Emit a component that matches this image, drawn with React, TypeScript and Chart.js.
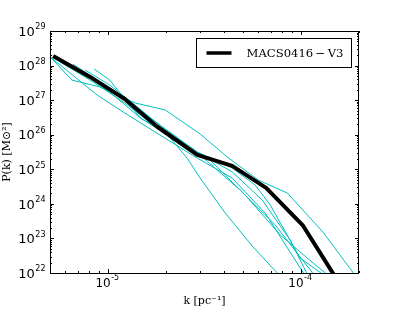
import React, { useEffect, useRef } from 'react';
import { Chart, registerables } from 'chart.js';

Chart.register(...registerables);

// ---- data ----
const mainLabel = 'MACS0416\u2009\u2212\u2009V3';
const mainK = [5.19e-6, 8.07e-6, 1.22e-5, 1.8e-5, 2.9e-5, 4.4e-5, 6.6e-5, 1.02e-4, 1.5e-4];
const mainP = [1.9e28, 4.7e27, 1.08e27, 1.7e26, 2.6e25, 1.25e25, 2.9e24, 2.44e23, 8e21];

const fieldK1 = [5.0e-6, 6.5e-6, 9.09e-6, 1.38e-5, 1.98e-5, 3.0e-5, 4.15e-5, 6.0e-5, 8.5e-5, 1.3e-4, 1.87e-4];
const fieldP1 = [1.8e28, 3.8e27, 2.4e27, 8.3e26, 5.2e26, 1.05e26, 2.26e25, 4.9e24, 2.06e24, 1.53e23, 1e22];

const fieldK2 = [8.46e-6, 1.02e-5, 1.2e-5, 1.47e-5, 1.98e-5, 2.57e-5, 3.0e-5, 4.05e-5, 5.65e-5, 7.54e-5];
const fieldP2 = [7.96e27, 3.8e27, 1.23e27, 3.05e26, 1.2e26, 2.1e25, 5.6e24, 5.4e23, 5.65e22, 1e22];

const fieldK3 = [6.58e-6, 9.09e-6, 1.22e-5, 1.86e-5, 2.9e-5, 4.4e-5, 6.29e-5, 8.8e-5, 1.07e-4];
const fieldP3 = [1.1e28, 3.35e27, 1.15e27, 1.9e26, 3.16e25, 8.4e24, 1.3e24, 9.0e22, 1e22];

const fieldK4 = [7.6e-6, 1.02e-5, 1.38e-5, 1.98e-5, 2.9e-5, 4.4e-5, 5.79e-5, 6.93e-5, 9.9e-5, 1.27e-4];
const fieldP4 = [7.4e27, 2.74e27, 7.2e26, 1.37e26, 3.16e25, 1.09e25, 3.5e24, 9.3e23, 2.7e22, 1e22];

const fieldK5 = [5.0e-6, 8.77e-6, 1.2e-5, 1.86e-5, 2.9e-5, 4.4e-5, 6.53e-5, 1.03e-4];
const fieldP5 = [1.8e28, 1.41e27, 4.5e26, 9.8e25, 2.1e25, 5.6e24, 5.4e23, 1e22];

const fieldK6 = [5.64e-6, 8.07e-6, 1.22e-5, 1.86e-5, 3.0e-5, 4.84e-5, 7.36e-5, 1.15e-4];
const fieldP6 = [1.27e28, 3.8e27, 8.3e26, 1.37e26, 2.6e25, 2.5e24, 2.44e23, 1e22];

const fieldK7 = [6.58e-6, 1.02e-5, 1.47e-5, 2.23e-5, 3.38e-5, 5.14e-5, 7.81e-5, 1.19e-4, 1.34e-4];
const fieldP7 = [9.7e27, 1.72e27, 3.05e26, 7.0e25, 1.86e25, 1.8e24, 1.26e23, 1.7e22, 1e22];

const fieldKs = [fieldK1, fieldK2, fieldK3, fieldK4, fieldK5, fieldK6, fieldK7];
const fieldPs = [fieldP1, fieldP2, fieldP3, fieldP4, fieldP5, fieldP6, fieldP7];

const xMin = 5e-6;
const xMax = 2e-4;
const yMin = 1e22;
const yMax = 1e29;
const xMajorExps = [-5, -4];
const yMajorExps = [22, 23, 24, 25, 26, 27, 28, 29];
const xTitle = 'k [pc\u207B\u00B9]';
const yTitle = 'P(k) [M\u2299\u00B2]';

const cyan = '#00BFBF';

function pts(ks: number[], ps: number[]) {
  return ks.map((k, i) => ({ x: k, y: ps[i] }));
}

const framePlugin = {
  id: 'frameTicksLegend',
  afterDraw(chart: any) {
    const ctx = chart.ctx as CanvasRenderingContext2D;
    const { left, right, top, bottom } = chart.chartArea;
    const xs = chart.scales.x;
    const ys = chart.scales.y;
    ctx.save();
    ctx.strokeStyle = '#000';
    ctx.lineWidth = 1;
    // frame
    ctx.strokeRect(Math.round(left) + 0.5, Math.round(top) + 0.5, Math.round(right - left) - 1, Math.round(bottom - top));
    // ticks
    ctx.beginPath();
    for (let e = Math.floor(Math.log10(xMin)); e <= Math.ceil(Math.log10(xMax)); e++) {
      for (let m = 1; m <= 9; m++) {
        const v = m * Math.pow(10, e);
        if (v < xMin * 0.999 || v > xMax * 1.001) continue;
        const px = Math.round(xs.getPixelForValue(v)) + 0.5;
        const len = m === 1 ? 4 : 2;
        ctx.moveTo(px, bottom);
        ctx.lineTo(px, bottom - len);
        ctx.moveTo(px, top);
        ctx.lineTo(px, top + len);
      }
    }
    for (let e = Math.floor(Math.log10(yMin)); e <= Math.ceil(Math.log10(yMax)); e++) {
      for (let m = 1; m <= 9; m++) {
        const v = m * Math.pow(10, e);
        if (v < yMin * 0.999 || v > yMax * 1.001) continue;
        const py = Math.round(ys.getPixelForValue(v)) + 0.5;
        const len = m === 1 ? 4 : 2;
        ctx.moveTo(left, py);
        ctx.lineTo(left + len, py);
        ctx.moveTo(right, py);
        ctx.lineTo(right - len, py);
      }
    }
    ctx.stroke();

    // tick labels
    ctx.fillStyle = '#000';
    ctx.textBaseline = 'alphabetic';
    ctx.textAlign = 'left';
    const baseFontY = '13px "DejaVu Sans"';
    const expFont = '8px "DejaVu Sans"';
    yMajorExps.forEach((e) => {
      const py = ys.getPixelForValue(Math.pow(10, e));
      ctx.font = baseFontY;
      const wb = ctx.measureText('10').width;
      ctx.font = expFont;
      const we = ctx.measureText(String(e)).width;
      const x0 = left - 5 - wb - we;
      ctx.font = baseFontY;
      ctx.fillText('10', x0, py + 4.7);
      ctx.font = expFont;
      ctx.fillText(String(e), x0 + wb + 0.5, py - 1.7);
    });
    const baseFontX = '12px "DejaVu Sans"';
    xMajorExps.forEach((e) => {
      const px = xs.getPixelForValue(Math.pow(10, e));
      const es = '-' + String(Math.abs(e));
      ctx.font = baseFontX;
      const wb = ctx.measureText('10').width;
      ctx.font = expFont;
      const we = ctx.measureText(es).width;
      const x0 = px - (wb + we) / 2 - 1;
      ctx.font = baseFontX;
      ctx.fillText('10', x0, bottom + 14);
      ctx.font = expFont;
      ctx.fillText(es, x0 + wb + 0.5, bottom + 7);
    });

    // legend
    const bx = Math.round(right) - 162.5;
    const by = Math.round(top) + 7.5;
    const bw = 155;
    const bh = 29;
    ctx.fillStyle = '#fff';
    ctx.fillRect(bx, by, bw, bh);
    ctx.strokeStyle = '#000';
    ctx.lineWidth = 1;
    ctx.strokeRect(bx, by, bw, bh);
    ctx.beginPath();
    ctx.lineWidth = 3.5;
    ctx.moveTo(bx + 10, by + 14.5);
    ctx.lineTo(bx + 35, by + 14.5);
    ctx.stroke();
    ctx.fillStyle = '#000';
    const label = chart.data.datasets[0].label;
    let size = 13;
    ctx.font = size + 'px "DejaVu Serif"';
    const w = ctx.measureText(label).width;
    if (w > 97) size = (size * 97) / w;
    ctx.font = size.toFixed(2) + 'px "DejaVu Serif"';
    ctx.textBaseline = 'middle';
    ctx.fillText(label, bx + 50, by + 15);
    ctx.restore();
  },
};

export default function App() {
  const ref = useRef<HTMLCanvasElement | null>(null);
  useEffect(() => {
    if (!ref.current) return;
    const datasets: any[] = [
      {
        label: mainLabel,
        data: pts(mainK, mainP),
        borderColor: '#000',
        borderWidth: 4,
        pointRadius: 0,
        tension: 0,
        clip: 0,
        borderJoinStyle: 'round',
        order: 0,
      },
      ...fieldKs.map((ks, i) => ({
        label: 'field ' + (i + 1),
        data: pts(ks, fieldPs[i]),
        borderColor: cyan,
        borderWidth: 1,
        pointRadius: 0,
        tension: 0,
        clip: 0,
        order: 1,
      })),
    ];
    const chart = new Chart(ref.current, {
      type: 'line',
      data: { datasets },
      options: {
        animation: false,
        responsive: false,
        devicePixelRatio: 1,
        parsing: false,
        layout: { padding: { top: 31, right: 40, bottom: 0, left: 0 } },
        plugins: { legend: { display: false }, tooltip: { enabled: false } },
        scales: {
          x: {
            type: 'logarithmic',
            min: xMin,
            max: xMax,
            bounds: 'data',
            grid: { display: false },
            border: { display: false },
            ticks: { display: false },
            afterFit: (s: any) => { s.height = 40; },
            title: {
              display: true,
              text: xTitle,
              color: '#000',
              font: { family: '"DejaVu Serif"', size: 11 },
              padding: { top: 0, bottom: 5 },
            },
          },
          y: {
            type: 'logarithmic',
            min: yMin,
            max: yMax,
            bounds: 'data',
            grid: { display: false },
            border: { display: false },
            ticks: { display: false },
            afterFit: (s: any) => { s.width = 50; },
            title: {
              display: true,
              text: yTitle,
              color: '#000',
              font: { family: '"DejaVu Serif"', size: 11 },
              padding: { top: 1, bottom: 0 },
            },
          },
        },
      } as any,
      plugins: [framePlugin],
    });
    return () => chart.destroy();
  }, []);
  return (
    <div style={{ position: 'absolute', left: 0, top: 0, width: 399, height: 313, background: '#fff' }}>
      <canvas ref={ref} width={399} height={313} style={{ display: 'block', width: 399, height: 313 }} />
    </div>
  );
}
